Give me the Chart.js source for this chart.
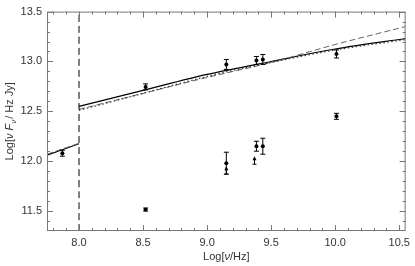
<!DOCTYPE html>
<html>
<head>
<meta charset="utf-8">
<script src="https://cdn.jsdelivr.net/npm/chart.js@4"></script>
<style>
  html, body { margin: 0; padding: 0; background: #fff; }
  #wrap { width: 415px; height: 266px; }
</style>
</head>
<body>
<div id="wrap"><canvas id="sedChart" width="415" height="266"></canvas></div>
<script>
// 坐标刻度
const xTickLabels = [8.0, 8.5, 9.0, 9.5, 10.0, 10.5];
const yTickLabels = [11.5, 12.0, 12.5, 13.0, 13.5];

// 上方测量点
const detX = [7.87, 8.52, 9.15, 9.385, 9.435, 10.01];
const detY = [12.08, 12.745, 12.97, 13.01, 13.02, 13.075];
const detErr = [0.03, 0.03, 0.05, 0.04, 0.05, 0.04];

// 下方测量点
const lowX = [8.52, 9.15, 9.385, 9.435, 10.01];
const lowY = [11.515, 11.98, 12.15, 12.15, 12.45];
const lowErr = [0.015, 0.11, 0.05, 0.08, 0.03];

// 下限箭头
const limX = [9.15, 9.37];
const limY = [11.87, 11.97];

// 模型曲线
const seg1X = [7.75, 8.0];
const seg1Solid = [12.06, 12.175];
const seg1Dashed = [12.07, 12.18];
const seg2X = [8.0, 8.5, 9.0, 9.5, 10.0, 10.55];
const seg2Solid = [12.55, 12.71, 12.87, 13.0, 13.125, 13.23];
const seg2Dashed = [12.52, 12.68, 12.84, 12.99, 13.17, 13.35];
const seg2Dotted = [12.51, 12.68, 12.85, 12.99, 13.115, 13.22];

const toPts = (xs, ys) => xs.map((x, i) => ({ x: x, y: ys[i] }));

const FONT = '"Liberation Sans", Arial, sans-serif';

// 边框、刻度、误差棒、标题
const framePlugin = {
    id: 'frame',
    afterDatasetsDraw(chart) {
        const ctx = chart.ctx;
        const a = chart.chartArea;
        const xs = chart.scales.x, ys = chart.scales.y;
        ctx.save();
        ctx.strokeStyle = '#777';
        ctx.lineWidth = 1;
        ctx.strokeRect(a.left + 0.5, a.top + 0.5, a.right - a.left - 1, a.bottom - a.top - 1);

        // inward ticks every 0.1
        ctx.beginPath();
        for (let i = 78; i <= 105; i++) {
            const v = i / 10;
            const px = Math.round(xs.getPixelForValue(v)) + 0.5;
            const len = (i % 5 === 0) ? 6 : 3;
            ctx.moveTo(px, a.bottom); ctx.lineTo(px, a.bottom - len);
            ctx.moveTo(px, a.top); ctx.lineTo(px, a.top + len);
        }
        for (let i = 114; i <= 135; i++) {
            const v = i / 10;
            const py = Math.round(ys.getPixelForValue(v)) + 0.5;
            const len = (i % 5 === 0) ? 6 : 3;
            ctx.moveTo(a.left, py); ctx.lineTo(a.left + len, py);
            ctx.moveTo(a.right, py); ctx.lineTo(a.right - len, py);
        }
        ctx.stroke();

        // error bars
        ctx.strokeStyle = '#000';
        const bar = (x, y, e) => {
            const px = xs.getPixelForValue(x);
            const p1 = ys.getPixelForValue(y - e), p2 = ys.getPixelForValue(y + e);
            ctx.beginPath();
            ctx.moveTo(px, p1); ctx.lineTo(px, p2);
            ctx.moveTo(px - 2.5, p1); ctx.lineTo(px + 2.5, p1);
            ctx.moveTo(px - 2.5, p2); ctx.lineTo(px + 2.5, p2);
            ctx.stroke();
        };
        detX.forEach((x, i) => bar(x, detY[i], detErr[i]));
        lowX.forEach((x, i) => bar(x, lowY[i], lowErr[i]));

        // lower-limit arrows
        limX.forEach((x, i) => {
            const px = xs.getPixelForValue(x);
            const pb = ys.getPixelForValue(limY[i]);
            const pt = ys.getPixelForValue(limY[i] + 0.07);
            ctx.beginPath();
            ctx.moveTo(px, pb); ctx.lineTo(px, pt);
            ctx.moveTo(px - 2, pb); ctx.lineTo(px + 2, pb);
            ctx.stroke();
            ctx.beginPath();
            ctx.moveTo(px, pt - 1); ctx.lineTo(px - 2, pt + 3); ctx.lineTo(px + 2, pt + 3);
            ctx.closePath();
            ctx.fillStyle = '#000';
            ctx.fill();
        });

        // axis titles
        ctx.fillStyle = '#333';
        ctx.textBaseline = 'alphabetic';
        const parts = [
            ['Log[', '', 0], ['ν', 'italic ', 0], [' ', '', 0], ['F', 'italic ', 0],
            ['ν', 'italic ', 3], ['/ Hz Jy]', '', 0]
        ];
        let total = 0;
        parts.forEach(p => {
            ctx.font = p[1] + (p[2] ? '8px ' : '11px ') + FONT;
            total += ctx.measureText(p[0]).width + (p[0] === '/ Hz Jy]' ? 1 : 0);
        });
        ctx.save();
        ctx.translate(13, (a.top + a.bottom) / 2 + total / 2);
        ctx.rotate(-Math.PI / 2);
        let cx = 0;
        parts.forEach(p => {
            ctx.font = p[1] + (p[2] ? '8px ' : '11px ') + FONT;
            if (p[0] === '/ Hz Jy]') cx += 1;
            ctx.fillText(p[0], cx, p[2]);
            cx += ctx.measureText(p[0]).width;
        });
        ctx.restore();

        const xparts = [['Log[', ''], ['ν', 'italic '], ['/Hz]', '']];
        let w = 0;
        xparts.forEach(p => { ctx.font = p[1] + '11px ' + FONT; w += ctx.measureText(p[0]).width; });
        let sx = (a.left + a.right) / 2 - w / 2;
        xparts.forEach(p => {
            ctx.font = p[1] + '11px ' + FONT;
            ctx.fillText(p[0], sx, 260);
            sx += ctx.measureText(p[0]).width;
        });
        ctx.restore();
    }
};

const lineDs = (pts, opts) => Object.assign({
    type: 'line',
    data: pts,
    borderColor: '#000',
    borderWidth: 1.2,
    pointRadius: 0,
    fill: false,
    tension: 0.4,
    cubicInterpolationMode: 'monotone'
}, opts);

new Chart(document.getElementById('sedChart').getContext('2d'), {
    type: 'scatter',
    data: {
        datasets: [
            lineDs([{ x: 8.0, y: 11.3 }, { x: 8.0, y: 13.5 }], { borderDash: [7, 4], borderWidth: 1, tension: 0 }),
            lineDs(toPts(seg1X, seg1Dashed), { borderColor: '#666', borderDash: [6, 3], borderWidth: 1 }),
            lineDs(toPts(seg1X, seg1Solid), {}),
            lineDs(toPts(seg2X, seg2Dotted), { borderColor: '#333', borderDash: [1.5, 2.5], borderWidth: 1.2 }),
            lineDs(toPts(seg2X, seg2Dashed), { borderColor: '#666', borderDash: [6, 3], borderWidth: 1 }),
            lineDs(toPts(seg2X, seg2Solid), {}),
            {
                data: toPts(detX, detY).concat(toPts(lowX, lowY)),
                backgroundColor: '#000',
                borderColor: '#000',
                pointStyle: 'circle',
                pointRadius: 2,
                pointBorderWidth: 0
            }
        ]
    },
    options: {
        responsive: false,
        animation: false,
        events: [],
        layout: { padding: { top: 5, right: 4, left: 0, bottom: 0 } },
        plugins: {
            legend: { display: false },
            tooltip: { enabled: false },
            title: { display: false }
        },
        scales: {
            x: {
                type: 'linear',
                min: 7.75,
                max: 10.55,
                afterBuildTicks: (s) => { s.ticks = xTickLabels.map(v => ({ value: v })); },
                afterFit: (s) => { s.height = 35; },
                grid: { display: false, drawTicks: false, tickLength: 0 },
                border: { display: false },
                ticks: {
                    padding: 5,
                    color: '#333',
                    font: { family: FONT, size: 11 },
                    callback: (v) => Number(v).toFixed(1)
                }
            },
            y: {
                type: 'linear',
                min: 11.3,
                max: 13.5,
                afterBuildTicks: (s) => { s.ticks = yTickLabels.map(v => ({ value: v })); },
                afterFit: (s) => { s.width = 47; },
                grid: { display: false, drawTicks: false, tickLength: 0 },
                border: { display: false },
                ticks: {
                    padding: 5,
                    color: '#333',
                    font: { family: FONT, size: 11 },
                    callback: (v) => Number(v).toFixed(1)
                }
            }
        }
    },
    plugins: [framePlugin]
});
</script>
</body>
</html>
